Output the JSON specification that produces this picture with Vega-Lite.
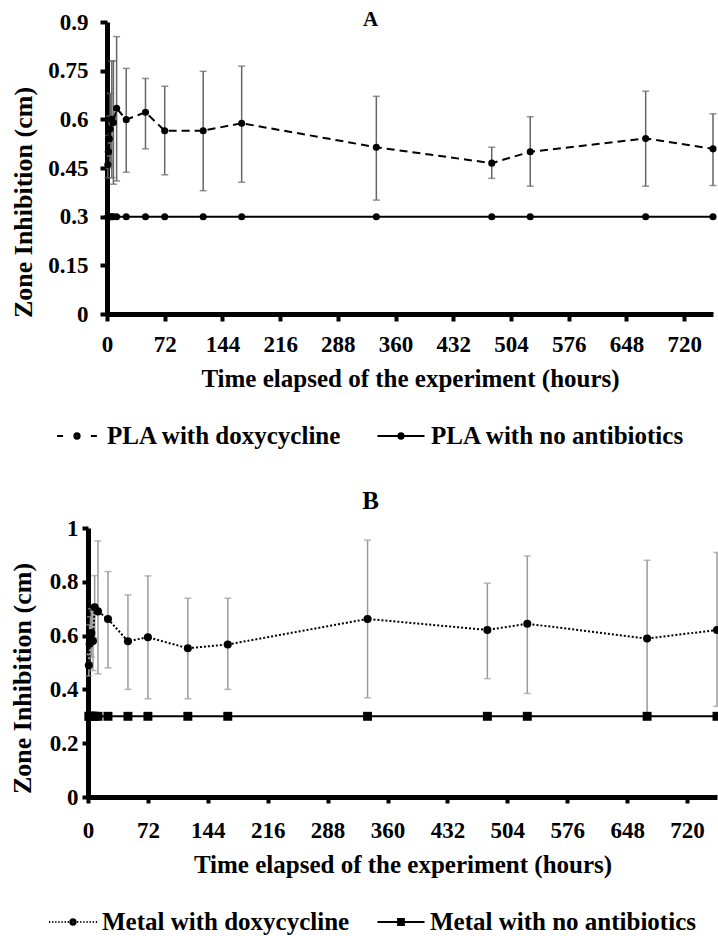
{
  "$schema": "https://vega.github.io/schema/vega-lite/v6.json",
  "background": "white",
  "padding": {"left": 9, "top": 9, "right": 0, "bottom": 0},
  "config": {
    "font": "Liberation Serif",
    "view": {"stroke": null},
    "axis": {
      "grid": false,
      "domainColor": "black",
      "domainWidth": 5,
      "tickColor": "black",
      "tickWidth": 4,
      "tickSize": 7,
      "labelFont": "Liberation Serif",
      "labelFontWeight": "bold",
      "labelColor": "black",
      "labelFontSize": 23,
      "labelOverlap": false,
      "labelFlush": false,
      "titleFont": "Liberation Serif",
      "titleFontWeight": "bold",
      "titleColor": "black",
      "titleFontSize": 25
    },
    "title": {
      "font": "Liberation Serif",
      "fontWeight": "bold",
      "color": "black",
      "anchor": "middle",
      "baseline": "alphabetic"
    },
    "legend": {
      "labelFont": "Liberation Serif",
      "labelFontWeight": "bold",
      "labelColor": "black",
      "labelFontSize": 25,
      "labelLimit": 0,
      "symbolSize": 2304,
      "symbolStrokeWidth": 2,
      "symbolOpacity": 1,
      "symbolStrokeColor": "black"
    }
  },
  "datasets": {
    "pla": [
      {"hours": 1, "series": "PLA with doxycycline", "zone": 0.46, "lo": 0.42, "hi": 0.50},
      {"hours": 2, "series": "PLA with doxycycline", "zone": 0.50, "lo": 0.45, "hi": 0.55},
      {"hours": 3, "series": "PLA with doxycycline", "zone": 0.54, "lo": 0.47, "hi": 0.61},
      {"hours": 4, "series": "PLA with doxycycline", "zone": 0.57, "lo": 0.46, "hi": 0.68},
      {"hours": 6, "series": "PLA with doxycycline", "zone": 0.60, "lo": 0.42, "hi": 0.78},
      {"hours": 8, "series": "PLA with doxycycline", "zone": 0.59, "lo": 0.40, "hi": 0.78},
      {"hours": 12, "series": "PLA with doxycycline", "zone": 0.634, "lo": 0.41, "hi": 0.855},
      {"hours": 24, "series": "PLA with doxycycline", "zone": 0.599, "lo": 0.437, "hi": 0.757},
      {"hours": 48, "series": "PLA with doxycycline", "zone": 0.622, "lo": 0.509, "hi": 0.726},
      {"hours": 72, "series": "PLA with doxycycline", "zone": 0.565, "lo": 0.429, "hi": 0.702},
      {"hours": 120, "series": "PLA with doxycycline", "zone": 0.565, "lo": 0.38, "hi": 0.748},
      {"hours": 168, "series": "PLA with doxycycline", "zone": 0.588, "lo": 0.406, "hi": 0.764},
      {"hours": 336, "series": "PLA with doxycycline", "zone": 0.514, "lo": 0.351, "hi": 0.671},
      {"hours": 480, "series": "PLA with doxycycline", "zone": 0.465, "lo": 0.418, "hi": 0.514},
      {"hours": 528, "series": "PLA with doxycycline", "zone": 0.50, "lo": 0.394, "hi": 0.608},
      {"hours": 672, "series": "PLA with doxycycline", "zone": 0.541, "lo": 0.394, "hi": 0.687},
      {"hours": 756, "series": "PLA with doxycycline", "zone": 0.509, "lo": 0.396, "hi": 0.617},
      {"hours": 1, "series": "PLA with no antibiotics", "zone": 0.3},
      {"hours": 2, "series": "PLA with no antibiotics", "zone": 0.3},
      {"hours": 3, "series": "PLA with no antibiotics", "zone": 0.3},
      {"hours": 4, "series": "PLA with no antibiotics", "zone": 0.3},
      {"hours": 6, "series": "PLA with no antibiotics", "zone": 0.3},
      {"hours": 8, "series": "PLA with no antibiotics", "zone": 0.3},
      {"hours": 12, "series": "PLA with no antibiotics", "zone": 0.3},
      {"hours": 24, "series": "PLA with no antibiotics", "zone": 0.3},
      {"hours": 48, "series": "PLA with no antibiotics", "zone": 0.3},
      {"hours": 72, "series": "PLA with no antibiotics", "zone": 0.3},
      {"hours": 120, "series": "PLA with no antibiotics", "zone": 0.3},
      {"hours": 168, "series": "PLA with no antibiotics", "zone": 0.3},
      {"hours": 336, "series": "PLA with no antibiotics", "zone": 0.3},
      {"hours": 480, "series": "PLA with no antibiotics", "zone": 0.3},
      {"hours": 528, "series": "PLA with no antibiotics", "zone": 0.3},
      {"hours": 672, "series": "PLA with no antibiotics", "zone": 0.3},
      {"hours": 756, "series": "PLA with no antibiotics", "zone": 0.3}
    ],
    "metal": [
      {"hours": 1, "series": "Metal with doxycycline", "zone": 0.49, "lo": 0.45, "hi": 0.53},
      {"hours": 2, "series": "Metal with doxycycline", "zone": 0.57, "lo": 0.50, "hi": 0.64},
      {"hours": 3, "series": "Metal with doxycycline", "zone": 0.60, "lo": 0.53, "hi": 0.67},
      {"hours": 4, "series": "Metal with doxycycline", "zone": 0.61, "lo": 0.52, "hi": 0.70},
      {"hours": 6, "series": "Metal with doxycycline", "zone": 0.58, "lo": 0.47, "hi": 0.69},
      {"hours": 8, "series": "Metal with doxycycline", "zone": 0.705, "lo": 0.59, "hi": 0.823},
      {"hours": 12, "series": "Metal with doxycycline", "zone": 0.69, "lo": 0.458, "hi": 0.952},
      {"hours": 24, "series": "Metal with doxycycline", "zone": 0.662, "lo": 0.48, "hi": 0.838},
      {"hours": 48, "series": "Metal with doxycycline", "zone": 0.579, "lo": 0.40, "hi": 0.751},
      {"hours": 72, "series": "Metal with doxycycline", "zone": 0.594, "lo": 0.365, "hi": 0.822},
      {"hours": 120, "series": "Metal with doxycycline", "zone": 0.553, "lo": 0.365, "hi": 0.739},
      {"hours": 168, "series": "Metal with doxycycline", "zone": 0.567, "lo": 0.40, "hi": 0.739},
      {"hours": 336, "series": "Metal with doxycycline", "zone": 0.662, "lo": 0.369, "hi": 0.955},
      {"hours": 480, "series": "Metal with doxycycline", "zone": 0.621, "lo": 0.44, "hi": 0.795},
      {"hours": 528, "series": "Metal with doxycycline", "zone": 0.644, "lo": 0.385, "hi": 0.896},
      {"hours": 672, "series": "Metal with doxycycline", "zone": 0.589, "lo": 0.30, "hi": 0.88},
      {"hours": 756, "series": "Metal with doxycycline", "zone": 0.621, "lo": 0.337, "hi": 0.909},
      {"hours": 1, "series": "Metal with no antibiotics", "zone": 0.3},
      {"hours": 2, "series": "Metal with no antibiotics", "zone": 0.3},
      {"hours": 3, "series": "Metal with no antibiotics", "zone": 0.3},
      {"hours": 4, "series": "Metal with no antibiotics", "zone": 0.3},
      {"hours": 6, "series": "Metal with no antibiotics", "zone": 0.3},
      {"hours": 8, "series": "Metal with no antibiotics", "zone": 0.3},
      {"hours": 12, "series": "Metal with no antibiotics", "zone": 0.3},
      {"hours": 24, "series": "Metal with no antibiotics", "zone": 0.3},
      {"hours": 48, "series": "Metal with no antibiotics", "zone": 0.3},
      {"hours": 72, "series": "Metal with no antibiotics", "zone": 0.3},
      {"hours": 120, "series": "Metal with no antibiotics", "zone": 0.3},
      {"hours": 168, "series": "Metal with no antibiotics", "zone": 0.3},
      {"hours": 336, "series": "Metal with no antibiotics", "zone": 0.3},
      {"hours": 480, "series": "Metal with no antibiotics", "zone": 0.3},
      {"hours": 528, "series": "Metal with no antibiotics", "zone": 0.3},
      {"hours": 672, "series": "Metal with no antibiotics", "zone": 0.3},
      {"hours": 756, "series": "Metal with no antibiotics", "zone": 0.3}
    ]
  },
  "spacing": 40,
  "resolve": {
    "scale": {"x": "independent", "y": "independent", "shape": "independent"},
    "legend": {"shape": "independent"}
  },
  "vconcat": [
    {
      "width": 625,
      "height": 292,
      "title": {"text": "A", "fontSize": 21, "dx": -30, "offset": -19},
      "data": {"name": "pla"},
      "encoding": {
        "x": {
          "field": "hours",
          "type": "quantitative",
          "scale": {"domain": [0, 756], "nice": false, "zero": true, "range": [19, 625]},
          "axis": {
            "values": [0, 72, 144, 216, 288, 360, 432, 504, 576, 648, 720],
            "title": "Time elapsed of the experiment (hours)",
            "labelOverlap": false,
            "labelPadding": 12,
            "titlePadding": 10
          }
        }
      },
      "layer": [
        {
          "transform": [{"filter": "datum.series === 'PLA with doxycycline'"}],
          "mark": {"type": "errorbar", "color": "#666666", "thickness": 1.5, "ticks": {"size": 7, "thickness": 1.5}},
          "encoding": {
            "y": {
              "field": "lo",
              "type": "quantitative",
              "scale": {"domain": [0, 0.9], "nice": false},
              "title": "Zone Inhibition (cm)",
              "axis": {
                "values": [0, 0.15, 0.3, 0.45, 0.6, 0.75, 0.9],
                "format": ".2~f",
                "labelOverlap": false,
                "offset": -19,
                "labelPadding": 12,
                "titleFontSize": 26,
                "titleAngle": -90,
                "titleBaseline": "middle",
                "titleAlign": "center",
                "titleX": -84,
                "titleY": 180
              }
            },
            "y2": {"field": "hi"}
          }
        },
        {
          "transform": [{"filter": "datum.series === 'PLA with doxycycline'"}],
          "mark": {"type": "line", "color": "black", "strokeWidth": 2, "strokeDash": [8, 5]},
          "encoding": {"y": {"field": "zone", "type": "quantitative", "title": "Zone Inhibition (cm)"}}
        },
        {
          "transform": [{"filter": "datum.series === 'PLA with no antibiotics'"}],
          "mark": {"type": "line", "color": "black", "strokeWidth": 2},
          "encoding": {"y": {"field": "zone", "type": "quantitative", "title": "Zone Inhibition (cm)"}}
        },
        {
          "mark": {"type": "point", "shape": "circle", "filled": true, "color": "black", "opacity": 1, "size": 50},
          "encoding": {"y": {"field": "zone", "type": "quantitative", "title": "Zone Inhibition (cm)"}}
        },
        {
          "mark": {"type": "point", "filled": false, "color": "black", "strokeWidth": 2, "opacity": 0},
          "encoding": {
            "y": {"field": "zone", "type": "quantitative", "title": "Zone Inhibition (cm)"},
            "shape": {
              "field": "series",
              "type": "nominal",
              "scale": {
                "domain": ["PLA with doxycycline", "PLA with no antibiotics"],
                "range": [
                  "M-0.83,0L-0.58,0M0.58,0L0.83,0M0.11,0A0.11,0.11,0,1,1,-0.11,0A0.11,0.11,0,1,1,0.11,0M0.06,0A0.06,0.06,0,1,1,-0.06,0A0.06,0.06,0,1,1,0.06,0M0.02,0A0.02,0.02,0,1,1,-0.02,0A0.02,0.02,0,1,1,0.02,0",
                  "M-0.98,0L0.98,0M0.11,0A0.11,0.11,0,1,1,-0.11,0A0.11,0.11,0,1,1,0.11,0M0.06,0A0.06,0.06,0,1,1,-0.06,0A0.06,0.06,0,1,1,0.06,0M0.02,0A0.02,0.02,0,1,1,-0.02,0A0.02,0.02,0,1,1,0.02,0"
                ]
              },
              "legend": {
                "orient": "none",
                "legendX": -36,
                "legendY": 389,
                "direction": "horizontal",
                "columns": 2,
                "columnPadding": 31,
                "labelOffset": 5,
                "title": null,
                "symbolStrokeColor": "black",
                "symbolStrokeWidth": 2
              }
            }
          }
        }
      ]
    },
    {
      "width": 629,
      "height": 269,
      "title": {"text": "B", "fontSize": 25, "dx": -32, "offset": 3},
      "data": {"name": "metal"},
      "encoding": {
        "x": {
          "field": "hours",
          "type": "quantitative",
          "scale": {"domain": [0, 756], "nice": false, "zero": true},
          "axis": {
            "values": [0, 72, 144, 216, 288, 360, 432, 504, 576, 648, 720],
            "title": "Time elapsed of the experiment (hours)",
            "labelOverlap": false,
            "tickSize": 6,
            "labelPadding": 16,
            "titlePadding": 10
          }
        },
        "y": {
          "field": "zone",
          "type": "quantitative",
          "scale": {"domain": [0, 1], "nice": false},
          "title": "Zone Inhibition (cm)",
          "axis": {
            "values": [0, 0.1, 0.2, 0.3, 0.4, 0.5, 0.6, 0.7, 0.8, 0.9, 1],
            "tickCount": 10,
            "format": ".1~f",
            "labelOverlap": false,
            "labelBound": false,
            "tickSize": 6,
            "labelPadding": 4,
            "labelFontSize": 23,
            "titleFontSize": 26,
            "titleAngle": -90,
            "titleBaseline": "middle",
            "titleAlign": "center",
            "titleX": -66,
            "titleY": 150
          }
        }
      },
      "layer": [
        {
          "transform": [{"filter": "datum.series === 'Metal with doxycycline'"}],
          "mark": {"type": "errorbar", "color": "#9a9a9a", "thickness": 1.5, "ticks": {"size": 7, "thickness": 1.5}},
          "encoding": {
            "y": {"field": "lo", "type": "quantitative", "title": "Zone Inhibition (cm)"},
            "y2": {"field": "hi"}
          }
        },
        {
          "transform": [{"filter": "datum.series === 'Metal with doxycycline'"}],
          "mark": {"type": "line", "color": "black", "strokeWidth": 2, "strokeDash": [2, 2]}
        },
        {
          "transform": [{"filter": "datum.series === 'Metal with no antibiotics'"}],
          "mark": {"type": "line", "color": "black", "strokeWidth": 2}
        },
        {
          "transform": [{"filter": "datum.series === 'Metal with doxycycline'"}],
          "mark": {"type": "point", "shape": "circle", "filled": true, "color": "black", "opacity": 1, "size": 65}
        },
        {
          "transform": [{"filter": "datum.series === 'Metal with no antibiotics'"}],
          "mark": {"type": "point", "shape": "square", "filled": true, "color": "black", "opacity": 1, "size": 80}
        },
        {
          "mark": {"type": "point", "filled": false, "color": "black", "strokeWidth": 2, "opacity": 0},
          "encoding": {
            "shape": {
              "field": "series",
              "type": "nominal",
              "scale": {
                "domain": ["Metal with doxycycline", "Metal with no antibiotics"],
                "range": [
                  "M-1,0L-0.95,0M-0.87,0L-0.82,0M-0.74,0L-0.69,0M-0.61,0L-0.56,0M-0.48,0L-0.43,0M-0.35,0L-0.3,0M-0.22,0L-0.17,0M0.17,0L0.22,0M0.3,0L0.35,0M0.43,0L0.48,0M0.56,0L0.61,0M0.69,0L0.74,0M0.82,0L0.87,0M0.95,0L1,0M0.11,0A0.11,0.11,0,1,1,-0.11,0A0.11,0.11,0,1,1,0.11,0M0.06,0A0.06,0.06,0,1,1,-0.06,0A0.06,0.06,0,1,1,0.06,0M0.02,0A0.02,0.02,0,1,1,-0.02,0A0.02,0.02,0,1,1,0.02,0",
                  "M-0.98,0L0.98,0M-0.12,-0.12L0.12,-0.12L0.12,0.12L-0.12,0.12ZM-0.07,-0.07L0.07,-0.07L0.07,0.07L-0.07,0.07ZM-0.02,-0.02L0.02,-0.02L0.02,0.02L-0.02,0.02Z"
                ]
              },
              "legend": {
                "orient": "none",
                "legendX": -40,
                "legendY": 369,
                "direction": "horizontal",
                "columns": 2,
                "columnPadding": 23,
                "labelOffset": 4,
                "title": null,
                "symbolStrokeColor": "black",
                "symbolStrokeWidth": 2
              }
            }
          }
        }
      ]
    }
  ]
}
